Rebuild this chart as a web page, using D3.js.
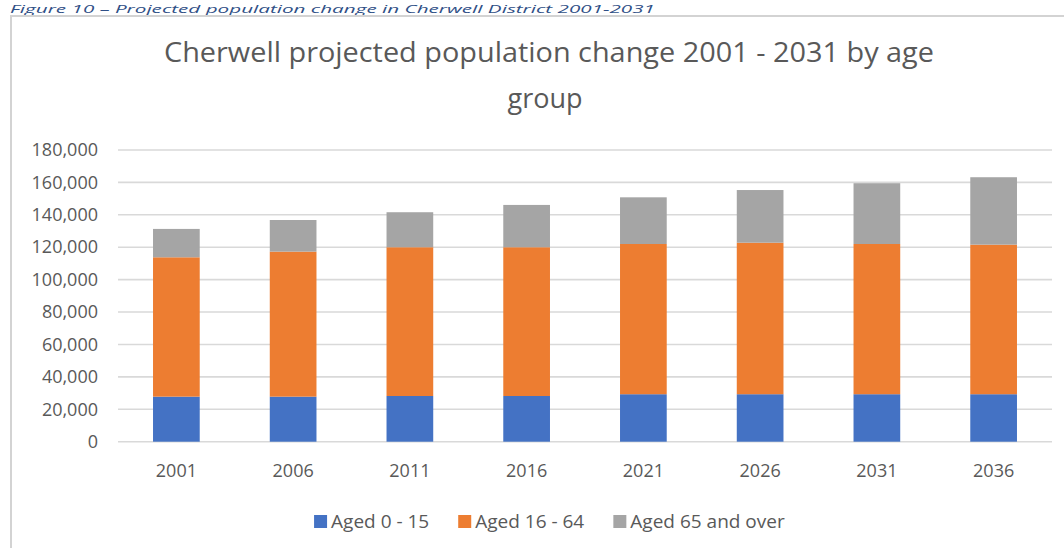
<!DOCTYPE html>
<html>
<head>
<meta charset="utf-8">
<script src="https://cdn.jsdelivr.net/npm/d3@7"></script>
<style>
  html, body { margin: 0; padding: 0; background: #fff; }
  svg { display: block; }
  text { font-family: "Open Sans", "Noto Sans", sans-serif; }
</style>
</head>
<body>
<svg id="chart" width="1064" height="548"></svg>
<script>
// Cherwell population by age group, stacked per projection year
const years = ["2001", "2006", "2011", "2016", "2021", "2026", "2031", "2036"];
const aged0to15 = [27800, 27800, 28200, 28200, 29300, 29300, 29300, 29300];
const aged16to64 = [86000, 89500, 91800, 91800, 92700, 93500, 92700, 92300];
const aged65plus = [17500, 19500, 21600, 26100, 28800, 32500, 37500, 41600];
const seriesNames = ["Aged 0 - 15", "Aged 16 - 64", "Aged 65 and over"];
const yTicks = [0, 20000, 40000, 60000, 80000, 100000, 120000, 140000, 160000, 180000];
const titleLines = ["Cherwell projected population change 2001 - 2031 by age", "group"];
const caption = "Figure 10 \u2013 Projected population change in Cherwell District 2001-2031";

const colors = ["#4472C4", "#ED7D31", "#A5A5A5"];
const textGrey = "#595959";

const svg = d3.select("#chart");

// figure caption above the chart frame
svg.append("text")
  .attr("x", 10).attr("y", 12.8)
  .attr("font-size", 11.5).attr("font-style", "italic")
  .attr("fill", "#2F4F86")
  .attr("textLength", 645).attr("lengthAdjust", "spacingAndGlyphs")
  .text(caption);

// chart frame (open towards the right and bottom edges)
svg.append("path")
  .attr("d", "M11,560 V16 H1080")
  .attr("fill", "none").attr("stroke", "#D3D3D3").attr("stroke-width", 2);

// title
const title = svg.append("text")
  .attr("text-anchor", "middle").attr("fill", textGrey).attr("font-size", 27);
title.append("tspan").attr("x", 549).attr("y", 62).text(titleLines[0])
  .attr("textLength", 770).attr("lengthAdjust", "spacingAndGlyphs");
title.append("tspan").attr("x", 545).attr("y", 108).text(titleLines[1]);

// scales
const x = d3.scaleBand().domain(years).range([118, 1052]).paddingInner(0.6).paddingOuter(0.3);
const y = d3.scaleLinear().domain([0, 180000]).range([441.7, 150]);

// horizontal gridlines
svg.append("g").selectAll("line").data(yTicks).join("line")
  .attr("x1", 118).attr("x2", 1052)
  .attr("y1", d => y(d)).attr("y2", d => y(d))
  .attr("stroke", "#D9D9D9").attr("stroke-width", 1.6);

// y axis labels
const yAxis = svg.append("g").attr("transform", "translate(118,0)")
  .call(d3.axisLeft(y).tickValues(yTicks).tickFormat(d3.format(",")).tickSize(0).tickPadding(20));
yAxis.select(".domain").remove();
yAxis.selectAll("text").attr("font-size", 18).attr("fill", textGrey)
  .style("font-family", '"Open Sans", sans-serif');

// x axis labels
const xAxis = svg.append("g").attr("transform", "translate(0,441.7)")
  .call(d3.axisBottom(x).tickSize(0).tickPadding(23));
xAxis.select(".domain").remove();
xAxis.selectAll("text").attr("font-size", 18).attr("fill", textGrey)
  .style("font-family", '"Open Sans", sans-serif');

// stacked bars
const rows = years.map((yr, i) => ({ year: yr, a: aged0to15[i], b: aged16to64[i], c: aged65plus[i] }));
const stack = d3.stack().keys(["a", "b", "c"])(rows);
svg.append("g").selectAll("g").data(stack).join("g")
  .attr("fill", (d, i) => colors[i])
  .selectAll("rect").data(d => d).join("rect")
  .attr("x", d => x(d.data.year))
  .attr("width", x.bandwidth())
  .attr("y", d => y(d[1]))
  .attr("height", d => y(d[0]) - y(d[1]));

// legend
const legend = svg.append("g");
const items = legend.selectAll("g").data(seriesNames).join("g");
items.append("rect").attr("width", 13).attr("height", 13).attr("y", -13)
  .attr("fill", (d, i) => colors[i]);
items.append("text").attr("x", 17).attr("y", 0).attr("font-size", 19)
  .attr("fill", textGrey).text(d => d);
let cursor = 0;
items.each(function () {
  const w = this.getBBox().width;
  d3.select(this).attr("transform", `translate(${cursor},0)`);
  cursor += w + 29;
});
const legendWidth = cursor - 29;
legend.attr("transform", `translate(${549.5 - legendWidth / 2},528)`);
</script>
</body>
</html>
